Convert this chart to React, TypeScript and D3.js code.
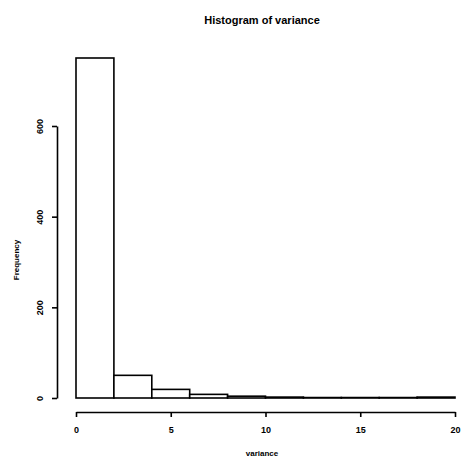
import React, { useEffect, useRef } from "react"
import * as d3 from "d3"

// histogram bins (width 2) and counts
const binEdges = [0, 2, 4, 6, 8, 10, 12, 14, 16, 18, 20]
const counts = [750, 50, 19, 8, 4, 2, 1, 1, 1, 2]
const xTicks = [0, 5, 10, 15, 20]
const yTicks = [0, 200, 400, 600]

const title = "Histogram of variance"
const xLabel = "variance"
const yLabel = "Frequency"

export default function App() {
  const ref = useRef<SVGSVGElement>(null)

  useEffect(() => {
    const svg = d3.select(ref.current)
    svg.selectAll("*").remove()

    const font = "'Liberation Sans', Arial, Helvetica, sans-serif"

    const x = d3.scaleLinear().domain([0, 20]).range([76, 455])
    const y = d3.scaleLinear().domain([0, 600]).range([398, 126])

    const bins = counts.map((c, i) => ({ x0: binEdges[i], x1: binEdges[i + 1], count: c }))

    svg.append("g")
      .selectAll("rect")
      .data(bins)
      .join("rect")
        .attr("x", d => x(d.x0))
        .attr("y", d => y(d.count))
        .attr("width", d => x(d.x1) - x(d.x0))
        .attr("height", d => y(0) - y(d.count))
        .attr("fill", "white")
        .attr("stroke", "black")
        .attr("stroke-width", 1.6)

    // x axis, offset below the bars like R does
    const gx = svg.append("g")
      .attr("transform", "translate(0,412)")
      .call(d3.axisBottom(x).tickValues(xTicks).tickSize(5).tickSizeOuter(0).tickPadding(10))
    gx.select(".domain").attr("stroke-width", 1.6)
    gx.selectAll(".tick line").attr("stroke-width", 1.6)
    gx.selectAll(".tick text")
      .attr("font-family", font)
      .attr("font-size", 9)
      .attr("font-weight", "bold")

    // y axis, offset to the left
    const gy = svg.append("g")
      .attr("transform", "translate(57,0)")
      .call(d3.axisLeft(y).tickValues(yTicks).tickSize(5).tickSizeOuter(0))
    gy.select(".domain").attr("stroke-width", 1.6)
    gy.selectAll(".tick line").attr("stroke-width", 1.6)
    gy.selectAll(".tick text")
      .attr("font-family", font)
      .attr("font-size", 9)
      .attr("font-weight", "bold")
      .attr("text-anchor", "middle")
      .attr("x", 0)
      .attr("dy", 0)
      .attr("transform", "translate(-14,0) rotate(-90)")

    svg.append("text")
      .attr("x", 262)
      .attr("y", 24)
      .attr("text-anchor", "middle")
      .attr("font-family", font)
      .attr("font-size", 11)
      .attr("font-weight", "bold")
      .text(title)

    svg.append("text")
      .attr("x", 262)
      .attr("y", 456)
      .attr("text-anchor", "middle")
      .attr("font-family", font)
      .attr("font-size", 8)
      .attr("font-weight", "bold")
      .text(xLabel)

    svg.append("text")
      .attr("transform", "translate(19,260) rotate(-90)")
      .attr("text-anchor", "middle")
      .attr("font-family", font)
      .attr("font-size", 8)
      .attr("font-weight", "bold")
      .text(yLabel)
  }, [])

  return (
    <svg
      ref={ref}
      width={463}
      height={461}
      style={{ position: "absolute", left: 0, top: 0, background: "white" }}
    />
  )
}
